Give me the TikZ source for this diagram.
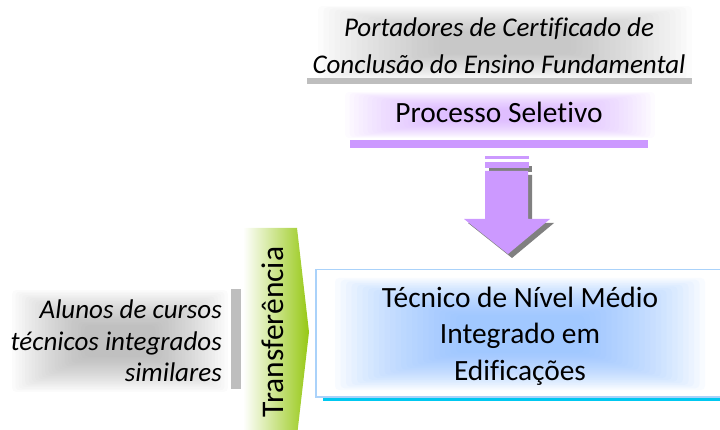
\documentclass[tikz,border=0pt]{standalone}
\usepackage{fontspec}
\setmainfont{Carlito}[Ligatures=CommonOff]
\definecolor{purp}{RGB}{204,153,255}
\definecolor{barg}{RGB}{190,190,190}
\definecolor{shad}{RGB}{128,128,128}
\definecolor{boxb}{RGB}{170,210,250}
\definecolor{cyanb}{RGB}{0,200,240}
\definecolor{glowb}{RGB}{130,185,255}
\definecolor{grn}{RGB}{150,200,20}
\newcommand\glowrect[9]{% color, x1,y1,x2,y2, n, dx, dy, opacity
  \foreach \i in {0,...,#6}{
    \fill[#1, fill opacity=#9, rounded corners=4pt] (#2+\i*#7, #3+\i*#8) rectangle (#4-\i*#7, #5-\i*#8);
  }}
\tikzset{
  txt/.style={inner sep=0pt, font=\fontsize{27}{37}\selectfont\itshape, text=black},
  big/.style={inner sep=0pt, font=\fontsize{29.4}{36.5}\selectfont, text=black}
}
\begin{document}
\begin{tikzpicture}[x=1pt,y=-1pt]
\useasboundingbox (0,0) rectangle (720,430);
% glows
\glowrect{black!42}{318}{6}{692}{80}{22}{5.5}{1.2}{0.033}
\glowrect{purp}{345}{92}{655}{138}{22}{4.5}{0.8}{0.045}
\glowrect{black!48}{12}{290}{228}{392}{22}{3.3}{1.6}{0.033}
% top text
\node[txt, align=center] (top) at (499,46) {Portadores de Certificado de\\Conclusão do Ensino Fundamental};
\fill[barg] (307,78) rectangle (692,84);
\node[big] (proc) at (499,112) {Processo Seletivo};
\fill[purp] (350,140) rectangle (648,148);
% arrow shadow
\fill[shad] (489,166) rectangle (532,172);
\fill[shad] (489,175) -- (532,175) -- (532,223) -- (554,223) -- (512,258) -- (468,223) -- (489,223) -- cycle;
% arrow
\fill[purp] (485,156) rectangle (529,159);
\fill[purp] (485,162) rectangle (529,168);
\fill[purp] (485,171) -- (528,171) -- (528,219) -- (550,219) -- (508,254) -- (464,219) -- (485,219) -- cycle;
% main box
\fill[cyanb] (323,396) rectangle (722,401);
\node[draw=boxb, line width=1.5pt, fill=white, minimum width=407pt, minimum height=127pt, anchor=north west, inner sep=0pt] (box) at (315,269) {};
\glowrect{glowb}{335}{278}{705}{390}{22}{5.5}{1.7}{0.05}
\node[big, align=center] (main) at (520,336) {Técnico de Nível Médio\\Integrado em\\Edificações};
% green chevron
\shade[left color=white, right color=grn] (243,228) -- (297,228) -- (309,332) -- (297,436) -- (243,436) -- cycle;
\node[big, rotate=90, font=\fontsize{31.5}{36}\selectfont] (transf) at (273,332) {Transferência};
% left side
\fill[barg] (231,289) rectangle (241,389);
\node[txt, align=right, font=\fontsize{27}{31.5}\selectfont\itshape, anchor=east] (left) at (222,341) {Alunos de cursos\\técnicos integrados\\similares};
\end{tikzpicture}
\end{document}
